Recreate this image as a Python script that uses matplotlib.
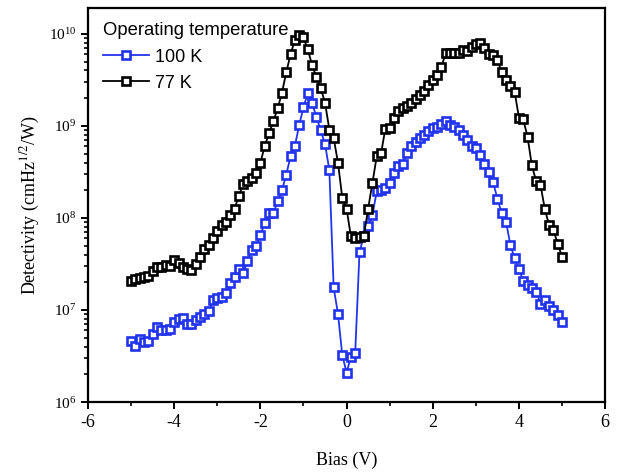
import matplotlib
matplotlib.use("Agg")
import matplotlib.pyplot as plt
from matplotlib.ticker import LogLocator, LogFormatterMathtext, MultipleLocator, NullFormatter
import numpy as np

plt.rcParams['font.family'] = 'Liberation Serif'
plt.rcParams['mathtext.fontset'] = 'stix'
plt.rcParams['axes.unicode_minus'] = False

# bias points, 0.1 V steps from -5 to 5
bias = [round(-5 + 0.1 * i, 1) for i in range(101)]

# log10 of detectivity
log_d77 = [7.32, 7.34, 7.35, 7.36, 7.37, 7.42, 7.47, 7.47, 7.49, 7.48,
           7.54, 7.51, 7.47, 7.45, 7.43, 7.50, 7.58, 7.66, 7.71, 7.78,
           7.86, 7.92, 7.96, 8.03, 8.10, 8.24, 8.37, 8.40, 8.43, 8.49,
           8.60, 8.78, 8.92, 9.05, 9.19, 9.36, 9.58, 9.78, 9.93, 9.99,
           9.96, 9.83, 9.66, 9.53, 9.41, 9.25, 8.96, 8.87, 8.60, 8.22,
           8.10, 7.80, 7.78, 7.79, 7.80, 8.10, 8.38, 8.67, 8.70, 8.97,
           8.98, 9.09, 9.16, 9.19, 9.22, 9.25, 9.29, 9.33, 9.38, 9.44,
           9.50, 9.55, 9.64, 9.79, 9.79, 9.79, 9.79, 9.82, 9.81, 9.86,
           9.89, 9.90, 9.85, 9.78, 9.77, 9.72, 9.58, 9.50, 9.43, 9.37,
           9.09, 9.07, 8.88, 8.57, 8.40, 8.36, 8.10, 7.92, 7.87, 7.72,
           7.58]

log_d100 = [6.66, 6.61, 6.68, 6.655, 6.66, 6.74, 6.81, 6.78, 6.78, 6.79,
            6.87, 6.90, 6.91, 6.85, 6.85, 6.89, 6.92, 6.96, 6.99, 7.11,
            7.13, 7.145, 7.18, 7.29, 7.355, 7.45, 7.40, 7.53, 7.65, 7.69,
            7.815, 7.94, 8.05, 8.05, 8.18, 8.30, 8.47, 8.67, 8.78, 9.01,
            9.20, 9.36, 9.245, 9.10, 8.95, 8.80, 8.52, 7.245, 6.96, 6.51,
            6.32, 6.49, 6.53, 7.63, 7.80, 7.91, 8.03, 8.29, 8.30, 8.32,
            8.38, 8.49, 8.56, 8.59, 8.70, 8.78, 8.83, 8.87, 8.90, 8.94,
            8.975, 8.99, 9.02, 9.05, 9.01, 8.99, 8.96, 8.90, 8.85, 8.78,
            8.76, 8.68, 8.59, 8.50, 8.39, 8.21, 8.05, 7.96, 7.71, 7.56,
            7.45, 7.31, 7.27, 7.235, 7.20, 7.07, 7.11, 7.04, 7.00, 6.945,
            6.87]

d77 = [10 ** v for v in log_d77]
d100 = [10 ** v for v in log_d100]

fig = plt.figure(figsize=(6.29, 4.73), dpi=100)
ax = fig.add_axes([0.140, 0.150, 0.822, 0.833])

ax.plot(bias, d100, color='#2233ee', lw=1.3, marker='s', ms=5.5,
        mfc='white', mec='#2233ee', mew=1.9, label='100 K')
ax.plot(bias, d77, color='black', lw=1.3, marker='s', ms=5.5,
        mfc='white', mec='black', mew=1.9, label='77 K')

ax.set_yscale('log')
ax.set_xlim(-6, 6)
ax.set_ylim(1e6, 10 ** 10.28)

ax.xaxis.set_major_locator(MultipleLocator(2))
ax.xaxis.set_minor_locator(MultipleLocator(1))
ax.yaxis.set_major_locator(LogLocator(base=10, numticks=10))
ax.yaxis.set_major_formatter(LogFormatterMathtext())
ax.yaxis.set_minor_locator(LogLocator(base=10, subs=np.arange(2, 10), numticks=20))
ax.yaxis.set_minor_formatter(NullFormatter())

for s in ax.spines.values():
    s.set_linewidth(1.6)
ax.tick_params(which='major', direction='out', length=5, width=1.4,
               top=False, right=False)
ax.tick_params(which='minor', direction='out', length=3, width=1.2,
               top=False, right=False)
ax.tick_params(axis='x', labelsize=13)
ax.tick_params(axis='y', labelsize=11)

ax.set_xlabel('Bias (V)', fontsize=13, labelpad=15)
ax.set_ylabel('Detectivity (cmHz$^{1/2}$/W)', fontsize=13, labelpad=5)

leg = ax.legend(title='Operating temperature', loc='upper left',
                bbox_to_anchor=(0.0, 1.0), frameon=False,
                prop={'family': 'Liberation Sans', 'size': 13},
                handlelength=2.6, handletextpad=0.3, labelspacing=0.5,
                borderaxespad=0.4)
leg.get_title().set_fontfamily('Liberation Sans')
leg.get_title().set_fontsize(13.3)
leg._legend_box.align = 'left'

fig.savefig('out.png', dpi=100)
